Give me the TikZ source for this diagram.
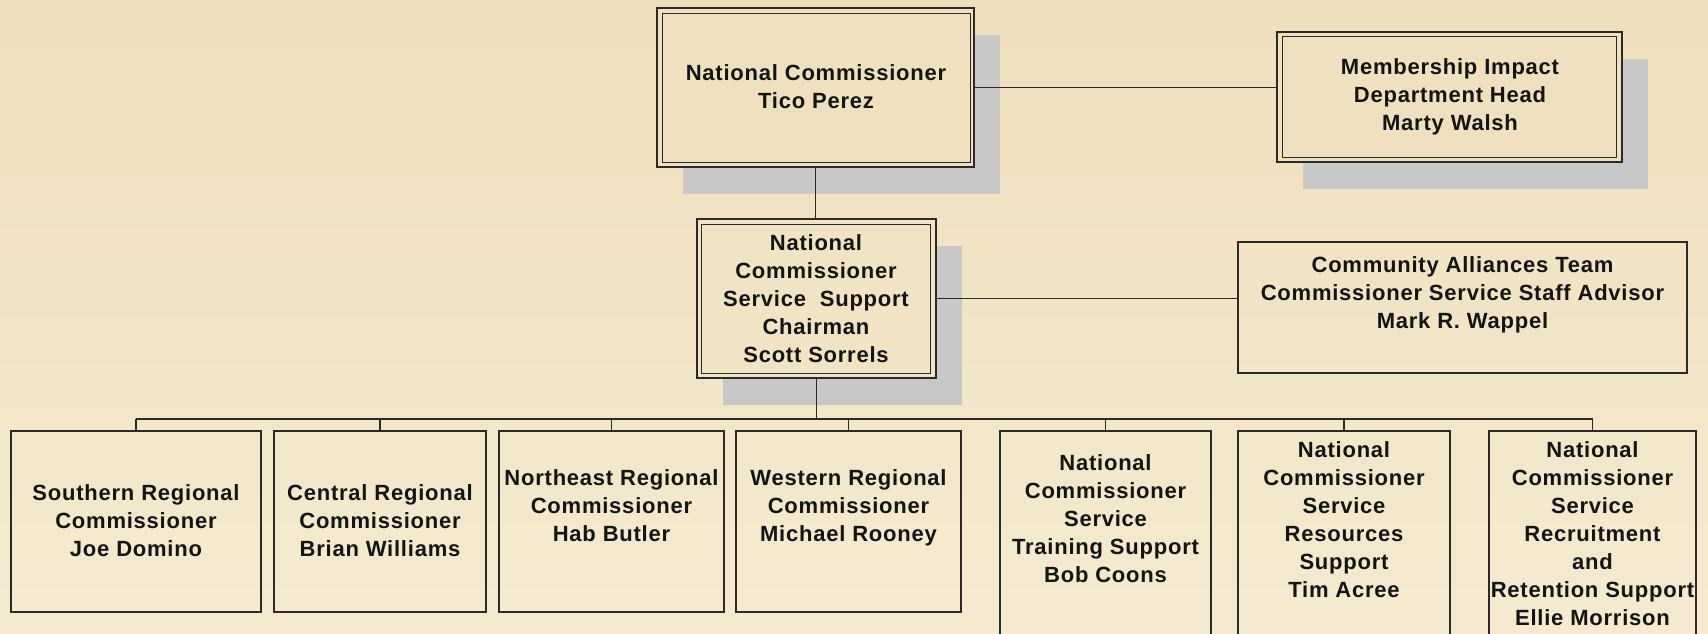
\documentclass[tikz,border=0pt]{standalone}
\usepackage{fontspec}
\newfontfamily\boxfont{Liberation Sans}[LetterSpace=3.5]
\usetikzlibrary{shadows,calc}
\definecolor{bgtop}{HTML}{EEDFBC}
\definecolor{bgbot}{HTML}{F5EAD0}
\definecolor{shadowc}{HTML}{C8C8C8}
\definecolor{linec}{HTML}{2A2A2A}
\definecolor{textc}{HTML}{141414}
\tikzset{
  box/.style={draw=linec, line width=1.3pt, rectangle, inner sep=0pt},
  dbox/.style={box, drop shadow={shadow xshift=26pt, shadow yshift=-27pt, fill=shadowc, opacity=1}},
  innerline/.style={draw=linec, line width=1pt},
  conn/.style={draw=linec, line width=1.4pt},
  txt/.style={font=\boxfont\bfseries\fontsize{22}{28}\selectfont, align=center, inner sep=0pt, text=textc}
}
\begin{document}
\begin{tikzpicture}[x=1pt,y=-1pt]
\useasboundingbox (0,0) rectangle (1708,633);
\clip (0,0) rectangle (1708,633);
\shade[top color=bgtop, bottom color=bgbot] (0,0) rectangle (1708,633);

% top level boxes with shadows
\node[dbox, fill=bgbot!14!bgtop, minimum width=317, minimum height=159] (nc) at (815.5,87.5) {};
\draw[innerline] ($(nc.north west)+(6,6.5)$) rectangle ($(nc.south east)+(-4.5,-5)$);
\node[dbox, fill=bgbot!15!bgtop, minimum width=345, minimum height=130] (mi) at (1449.5,97) {};
\draw[innerline] ($(mi.north west)+(6,5)$) rectangle ($(mi.south east)+(-6,-5)$);
\node[dbox, fill=bgbot!47!bgtop, minimum width=239, minimum height=159] (ch) at (816.5,298.5) {};
\draw[innerline] ($(ch.north west)+(5.5,6.5)$) rectangle ($(ch.south east)+(-6.5,-5)$);
\node[box, minimum width=449, minimum height=131] (ca) at (1462.5,307.5) {};

% bottom row
\node[box, minimum width=250, minimum height=181] (b1) at (136,521.5) {};
\node[box, minimum width=212, minimum height=181] (b2) at (380,521.5) {};
\node[box, minimum width=225, minimum height=181] (b3) at (611.5,521.5) {};
\node[box, minimum width=225, minimum height=181] (b4) at (848.5,521.5) {};
\node[box, minimum width=211, minimum height=230] (b5) at (1105.5,546) {};
\node[box, minimum width=212, minimum height=230] (b6) at (1344,546) {};
\node[box, minimum width=207, minimum height=230] (b7) at (1592.5,546) {};

% connectors
\coordinate (bus) at (816,419);
\draw[conn] (nc.south) -- (nc.south |- ch.north);
\draw[conn] (nc.east) -- (mi.west |- nc.east);
\draw[conn] (ch.east) -- (ca.west |- ch.east);
\draw[conn] (ch.south) -- (ch.south |- bus);
\draw[conn] (b1.north |- bus) -- (b7.north |- bus);
\foreach \b in {b1,b2,b3,b4,b5,b6,b7}{
  \draw[conn] (\b.north |- bus) -- (\b.north);
}

% texts
\node[txt] (t-nc) at (816,87) {National Commissioner\\Tico Perez};
\node[txt] (t-mi) at (1450,97) {Membership Impact\\Department Head\\Marty Walsh};
\node[txt] (t-ch) at (816,298.5) {National\\Commissioner\\Service\ \ Support\\Chairman\\Scott Sorrels};
\node[txt] (t-ca) at (1462.5,295) {Community Alliances Team\\Commissioner Service Staff Advisor\\Mark R. Wappel};
\node[txt] (t-b1) at (136,520.5) {Southern Regional\\Commissioner\\Joe Domino};
\node[txt] (t-b2) at (380,520.5) {Central Regional\\Commissioner\\Brian Williams};
\node[txt] (t-b3) at (611.5,506) {Northeast Regional\\Commissioner\\Hab Butler};
\node[txt] (t-b4) at (848.5,508) {Western Regional\\Commissioner\\Michael Rooney};
\node[txt] (t-b5) at (1105.5,518.5) {National\\Commissioner\\Service\\Training Support\\Bob Coons};
\node[txt] (t-b6) at (1344,519.5) {National\\Commissioner\\Service\\Resources\\Support\\Tim Acree};
\node[txt] (t-b7) at (1592.5,533.5) {National\\Commissioner\\Service\\Recruitment\\and\\Retention Support\\Ellie Morrison};
\end{tikzpicture}
\end{document}
